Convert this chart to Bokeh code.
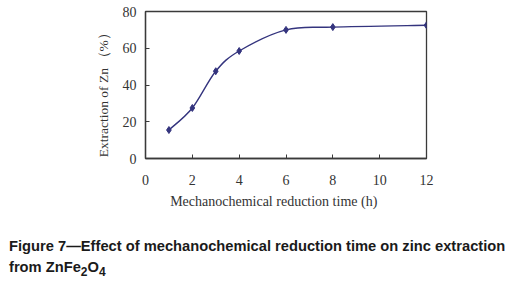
from bokeh.plotting import figure
from bokeh.models import Range1d, FixedTicker, Div
from bokeh.layouts import column
from bokeh.embed import file_html
from bokeh.resources import INLINE

# data
time_h = [1, 2, 3, 4, 6, 8, 12]
zn_extraction = [15.5, 27.5, 47.5, 58.5, 70.0, 71.5, 72.5]
x_ticks = [0, 2, 4, 6, 8, 10, 12]
y_ticks = [0, 20, 40, 60, 80]

LINE = "#34347e"
AX = "#3a3a3a"
SERIF = "Liberation Serif"
NB = "\u00a0"

p = figure(width=521, height=215, output_backend="svg", toolbar_location=None,
           x_range=Range1d(0, 12), y_range=Range1d(0, 80),
           min_border_left=145, min_border_right=95, min_border_top=11, min_border_bottom=57)
p.background_fill_color = "white"
p.border_fill_color = "white"
p.outline_line_color = AX
p.outline_line_width = 1.3
p.grid.visible = False

for ax, ticks in ((p.xaxis[0], x_ticks), (p.yaxis[0], y_ticks)):
    ax.ticker = FixedTicker(ticks=ticks)
    ax.axis_line_color = AX
    ax.axis_line_width = 1.3
    ax.major_tick_line_color = AX
    ax.major_tick_in = 4
    ax.major_tick_out = 0
    ax.minor_tick_line_color = None
    ax.major_label_text_font = SERIF
    ax.major_label_text_font_size = "14px"
    ax.major_label_text_color = "#333333"
    ax.axis_label_text_font = SERIF
    ax.axis_label_text_font_style = "normal"
    ax.axis_label_text_color = "#333333"
p.xaxis.major_label_standoff = 16
p.yaxis.major_label_standoff = 9
p.xaxis.axis_label = "Mechanochemical reduction time (h)" + NB * 7
p.xaxis.axis_label_text_font_size = "14px"
p.xaxis.axis_label_standoff = 6
p.yaxis.axis_label = "Extraction of Zn\u2009（%）" + NB * 4
p.yaxis.axis_label_text_font_size = "13.5px"
p.yaxis.axis_label_standoff = 9

# smoothed line (Catmull-Rom -> cubic Bezier control points from the data)
n = len(time_h)
x0s, y0s, x1s, y1s, cx0, cy0, cx1, cy1 = [], [], [], [], [], [], [], []
for i in range(n - 1):
    pm = max(i - 1, 0)
    pn = min(i + 2, n - 1)
    x0s.append(time_h[i]); y0s.append(zn_extraction[i])
    x1s.append(time_h[i + 1]); y1s.append(zn_extraction[i + 1])
    cx0.append(time_h[i] + (time_h[i + 1] - time_h[pm]) / 6)
    cy0.append(zn_extraction[i] + (zn_extraction[i + 1] - zn_extraction[pm]) / 6)
    cx1.append(time_h[i + 1] - (time_h[pn] - time_h[i]) / 6)
    cy1.append(zn_extraction[i + 1] - (zn_extraction[pn] - zn_extraction[i]) / 6)
p.bezier(x0=x0s, y0=y0s, x1=x1s, y1=y1s, cx0=cx0, cy0=cy0, cx1=cx1, cy1=cy1,
         line_color=LINE, line_width=1.4)
p.scatter(time_h, zn_extraction, marker="diamond", size=7, color=LINE)

# caption
sub = '<span style="font-size:12px;position:relative;top:4px;">{}</span>'
caption_html = ("Figure 7\u2014Effect of mechanochemical reduction time on zinc extraction<br>"
                "from ZnFe" + sub.format("2") + "O" + sub.format("4"))
cap = Div(text=caption_html, width=521, height=76, margin=(0, 0, 0, 0),
          styles={"font-family": "'Liberation Sans', Arial, sans-serif",
                  "font-weight": "bold", "font-size": "14.7px", "line-height": "21px",
                  "color": "#1a1a1a", "white-space": "nowrap",
                  "padding-top": "21px", "padding-left": "9px",
                  "box-sizing": "border-box"})

open("out.html", "w").write(file_html(column(p, cap, spacing=0), INLINE))
